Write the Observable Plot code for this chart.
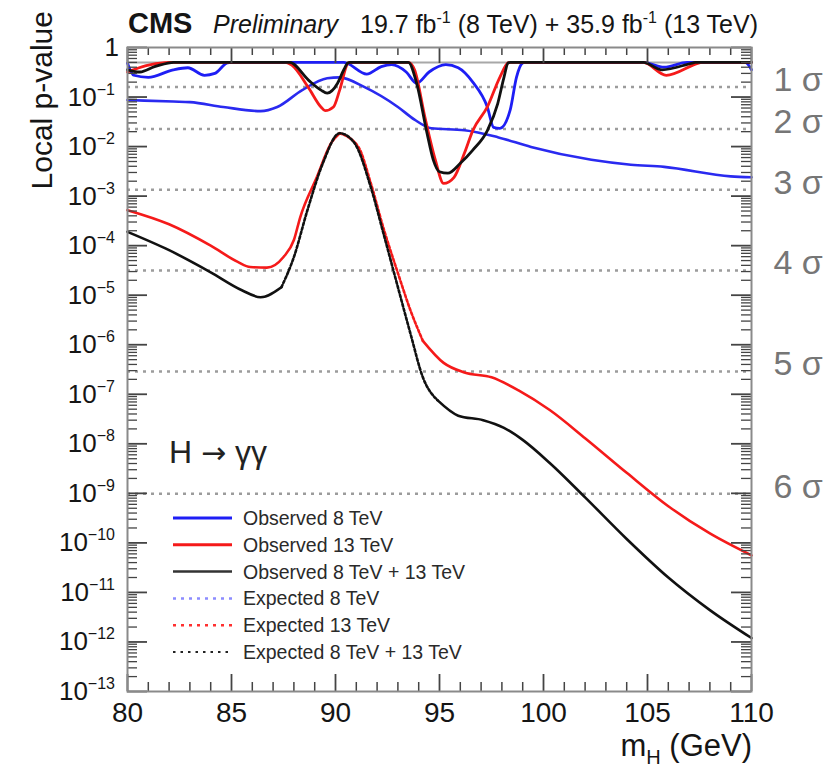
<!DOCTYPE html>
<html><head><meta charset="utf-8">
<script src="https://cdn.jsdelivr.net/npm/d3@7"></script>
<script src="https://cdn.jsdelivr.net/npm/@observablehq/plot@0.6"></script>
<style>body{margin:0;background:#fff} #chart svg{display:block;overflow:visible}</style>
</head><body><div id="chart"></div>
<script>
const FONT = "'Liberation Sans', Arial, Helvetica, sans-serif";

// ---- data: [m_H (GeV), local p-value] ----
const observed8 = [[80.0,0.48],[80.3,0.275],[81.0,0.25],[82.2,0.355],[82.9,0.39],[83.7,0.275],[84.2,0.30],[84.8,0.49],[85.0,0.5],[90.4,0.5],[90.6,0.47],[91.5,0.29],[92.2,0.41],[92.7,0.45],[93.4,0.32],[93.9,0.19],[94.5,0.32],[95.3,0.45],[95.9,0.39],[96.6,0.20],[97.3,0.063],[97.6,0.0245],[97.9,0.0234],[98.4,0.055],[98.7,0.25],[99.0,0.49],[99.1,0.5],[104.8,0.5],[105.8,0.40],[106.9,0.5],[109.7,0.5],[110,0.355]];
const observed13 = [[80.0,0.32],[80.9,0.43],[81.8,0.495],[82.0,0.5],[87.6,0.5],[87.9,0.44],[88.7,0.155],[89.3,0.063],[89.5,0.053],[89.9,0.063],[90.2,0.138],[90.6,0.48],[90.7,0.5],[93.5,0.5],[93.8,0.355],[94.3,0.039],[94.8,0.0054],[95.2,0.0018],[95.7,0.0024],[96.2,0.0074],[96.6,0.021],[97.3,0.063],[97.9,0.25],[98.3,0.49],[98.4,0.5],[104.8,0.5],[105.9,0.275],[107.5,0.49],[107.6,0.5],[110,0.5]];
const observedComb = [[80.0,0.355],[80.6,0.32],[81.3,0.41],[82.1,0.495],[82.2,0.5],[87.8,0.5],[88.7,0.22],[89.3,0.138],[89.6,0.12],[90.1,0.19],[90.4,0.355],[90.6,0.49],[90.7,0.5],[93.5,0.5],[93.9,0.19],[94.4,0.0186],[94.7,0.0054],[95.0,0.0031],[95.4,0.0029],[96.0,0.0046],[96.6,0.0085],[97.3,0.021],[97.8,0.074],[98.1,0.25],[98.3,0.49],[98.4,0.5],[104.8,0.5],[105.7,0.355],[107.2,0.49],[107.3,0.5],[110,0.5]];
const expected8 = [[80,0.087],[82.2,0.081],[83.0,0.079],[84.6,0.063],[86.4,0.052],[87.2,0.063],[88.4,0.138],[89.6,0.24],[90.2,0.25],[91.4,0.158],[93.0,0.063],[93.8,0.035],[94.6,0.0234],[96.2,0.0214],[97.8,0.0155],[99.4,0.0098],[102.3,0.0054],[104.2,0.0043],[105.8,0.0039],[109,0.0025],[110,0.0024]];
const expected13 = [[80,5.2e-4],[82,2.7e-4],[84,1.0e-4],[85.3,4.7e-5],[85.9,3.7e-5],[86.7,3.6e-5],[87.5,5.9e-5],[88.0,1.3e-4],[88.3,3.7e-4],[89.1,2.4e-3],[89.8,1.2e-2],[90.2,1.86e-2],[91.1,9.8e-3],[91.7,1.8e-3],[92.3,2.3e-4],[93.0,2.8e-5],[93.6,5.0e-6],[94.2,1.2e-6],[95.2,4.3e-7],[96.2,2.75e-7],[97.5,2.2e-7],[98.8,1.2e-7],[100.3,4.8e-8],[102,1.3e-8],[104,2.6e-9],[106,5.5e-10],[108,1.55e-10],[110,5.6e-11]];
const expectedComb = [[80,1.9e-4],[82,8.1e-5],[84,2.9e-5],[85.5,1.26e-5],[86.4,9.1e-6],[87.4,1.45e-5],[88.0,5.9e-5],[88.65,5.2e-4],[89.4,4.7e-3],[90.2,1.86e-2],[90.9,1.2e-2],[91.7,1.5e-3],[92.3,1.8e-4],[93.0,1.45e-5],[93.6,1.7e-6],[94.2,2.2e-7],[94.9,7.6e-8],[95.9,3.7e-8],[97.1,3.0e-8],[98.1,2.1e-8],[99.0,1.2e-8],[100.3,4.1e-9],[102,8.3e-10],[104,1.2e-10],[106,2.0e-11],[108,4.4e-12],[110,1.2e-12]];

const sigmaP = [0.158655, 0.02275, 0.0013499, 3.167e-5, 2.867e-7, 9.866e-10];
const sigmaLabels = ["1 σ","2 σ","3 σ","4 σ","5 σ","6 σ"];
const xTickLabels = [80,85,90,95,100,105,110];
const yDecades = [0,-1,-2,-3,-4,-5,-6,-7,-8,-9,-10,-11,-12,-13];
const legendLabels = ["Observed 8 TeV","Observed 13 TeV","Observed 8 TeV + 13 TeV","Expected 8 TeV","Expected 13 TeV","Expected 8 TeV + 13 TeV"];

// ---- layout ----
const W = 827, H = 772, mL = 127, mR = 76, mT = 47, mB = 81;
const fw = W - mL - mR, fh = H - mT - mB;
const BLUE = "#1e1ef5", RED = "#f51a1a", BLACK = "#111";

const rows = a => a.map(([m, p]) => ({m, p}));
const xMinor = d3.range(80, 111).filter(v => v % 5 !== 0);
const yMajor = yDecades.map(k => Math.pow(10, k));
const yMinor = [];
for (let k = -13; k < 0; k++) for (let j = 2; j <= 9; j++) yMinor.push(j * Math.pow(10, k));

function expLine(arr, lo, hi, color) {
  const r = rows(arr);
  const o = {x: "m", y: "p", stroke: color, strokeWidth: 2.6, curve: "monotone-x"};
  return [
    Plot.line(r.filter(d => d.m <= lo), o),
    Plot.line(r.filter(d => d.m >= lo && d.m <= hi), {...o, strokeDasharray: "2.5,2.2"}),
    Plot.line(r.filter(d => d.m >= hi), o)
  ];
}
const obsOpt = c => ({x: "m", y: "p", stroke: c, strokeWidth: 2.8, curve: "monotone-x"});
const tickC = "#444";

const plot = Plot.plot({
  width: W, height: H,
  marginLeft: mL, marginRight: mR, marginTop: mT, marginBottom: mB,
  style: {fontFamily: FONT, background: "#fff"},
  x: {domain: [80, 110], axis: null},
  y: {type: "log", domain: [1e-13, 1], axis: null},
  marks: [
    Plot.ruleY(sigmaP, {y: d => d, stroke: "#9c9c9c", strokeWidth: 2.5, strokeDasharray: "3,5"}),
    Plot.ruleY([0.5], {y: d => d, stroke: "#a8a8a8", strokeWidth: 2}),
    Plot.line(rows(expected8), {x: "m", y: "p", stroke: "#2a2af0", strokeWidth: 2.6, curve: "monotone-x"}),
    ...expLine(expected13, 90.2, 94.2, RED),
    ...expLine(expectedComb, 87.4, 94.9, BLACK),
    Plot.line(rows(observed8), obsOpt(BLUE)),
    Plot.line(rows(observed13), obsOpt(RED)),
    Plot.line(rows(observedComb), obsOpt(BLACK)),
    // ticks, inward, ROOT style
    Plot.tickX(xTickLabels, {x: d => d, insetTop: fh - 17, stroke: tickC, strokeWidth: 1.8}),
    Plot.tickX(xMinor, {x: d => d, insetTop: fh - 9, stroke: tickC, strokeWidth: 1.5}),
    Plot.tickX(xTickLabels, {x: d => d, insetBottom: fh - 16, stroke: tickC, strokeWidth: 1.8}),
    Plot.tickX(xMinor, {x: d => d, insetBottom: fh - 8, stroke: tickC, strokeWidth: 1.5}),
    Plot.tickY(yMajor, {y: d => d, insetRight: fw - 20, stroke: tickC, strokeWidth: 1.8}),
    Plot.tickY(yMinor, {y: d => d, insetRight: fw - 10, stroke: tickC, strokeWidth: 1.3}),
    Plot.tickY(yMajor, {y: d => d, insetLeft: fw - 20, stroke: tickC, strokeWidth: 1.8}),
    Plot.tickY(yMinor, {y: d => d, insetLeft: fw - 10, stroke: tickC, strokeWidth: 1.3}),
    Plot.frame({stroke: "#8a8a8a", strokeWidth: 2}),
    Plot.text(xTickLabels, {x: d => d, frameAnchor: "bottom", lineAnchor: "top", dy: 11, text: d => String(d), fontSize: 28, fill: "#151515"}),
    Plot.text(sigmaP, {y: d => d, frameAnchor: "right", textAnchor: "start", dx: 22, dy: -7, text: (d, i) => sigmaLabels[i], fontSize: 34, fill: "#767676"})
  ]
});

document.getElementById("chart").appendChild(plot);
const svg = d3.select(plot);
const ys = plot.scale("y");
const g = svg.append("g").attr("font-family", FONT).attr("fill", "#151515").attr("text-anchor", "start");

// y tick labels 10^k
yDecades.forEach(k => {
  const y = ys.apply(Math.pow(10, k));
  const t = g.append("text").attr("x", k === 0 ? 119 : 115).attr("y", y + 9).attr("text-anchor", "end").attr("font-size", 26);
  if (k === 0) t.text("1");
  else {
    t.append("tspan").text("10");
    t.append("tspan").attr("font-size", 16).attr("dy", -11).text("−" + (-k));
  }
});

// header
g.append("text").attr("x", 128).attr("y", 33).attr("font-size", 29).attr("font-weight", "bold").text("CMS");
g.append("text").attr("x", 213).attr("y", 33).attr("font-size", 25).attr("font-style", "italic").text("Preliminary");
const hdr = g.append("text").attr("x", 758).attr("y", 33).attr("font-size", 25).attr("text-anchor", "end");
hdr.append("tspan").text("19.7 fb");
hdr.append("tspan").attr("font-size", 16).attr("dy", -10).text("-1");
hdr.append("tspan").attr("dy", 10).text(" (8 TeV) + 35.9 fb");
hdr.append("tspan").attr("font-size", 16).attr("dy", -10).text("-1");
hdr.append("tspan").attr("dy", 10).text(" (13 TeV)");

// axis titles
g.append("text").attr("transform", "translate(52,11) rotate(-90)").attr("text-anchor", "end").attr("font-size", 30).text("Local p-value");
const xt = g.append("text").attr("x", 752).attr("y", 756).attr("text-anchor", "end").attr("font-size", 31);
xt.append("tspan").text("m");
xt.append("tspan").attr("font-size", 20).attr("dy", 8).text("H");
xt.append("tspan").attr("dy", -8).text(" (GeV)");

// process label
const proc = g.append("text").attr("x", 169).attr("y", 463).attr("font-size", 32).attr("fill", "#222");
proc.append("tspan").text("H ");
proc.append("tspan").attr("font-family", "'DejaVu Sans', sans-serif").attr("font-size", 30).text("→");
proc.append("tspan").text(" γγ");

// legend
const legStyles = [
  {c: BLUE, w: 3, d: null}, {c: RED, w: 3, d: null}, {c: "#333", w: 2.5, d: null},
  {c: "#8c8cff", w: 2.5, d: "3,5"}, {c: "#ff3030", w: 2.5, d: "3,5"}, {c: "#222", w: 2.2, d: "2.5,5"}
];
const legY0 = 518, legDy = 26.8;
legendLabels.forEach((lab, i) => {
  const y = legY0 + i * legDy;
  const s = legStyles[i];
  const ln = g.append("line").attr("x1", 173).attr("x2", 232).attr("y1", y).attr("y2", y)
    .attr("stroke", s.c).attr("stroke-width", s.w);
  if (s.d) ln.attr("stroke-dasharray", s.d);
  g.append("text").attr("x", 243).attr("y", y + 7).attr("font-size", 19.5).attr("fill", "#2a2a2a").text(lab);
});
</script></body></html>
